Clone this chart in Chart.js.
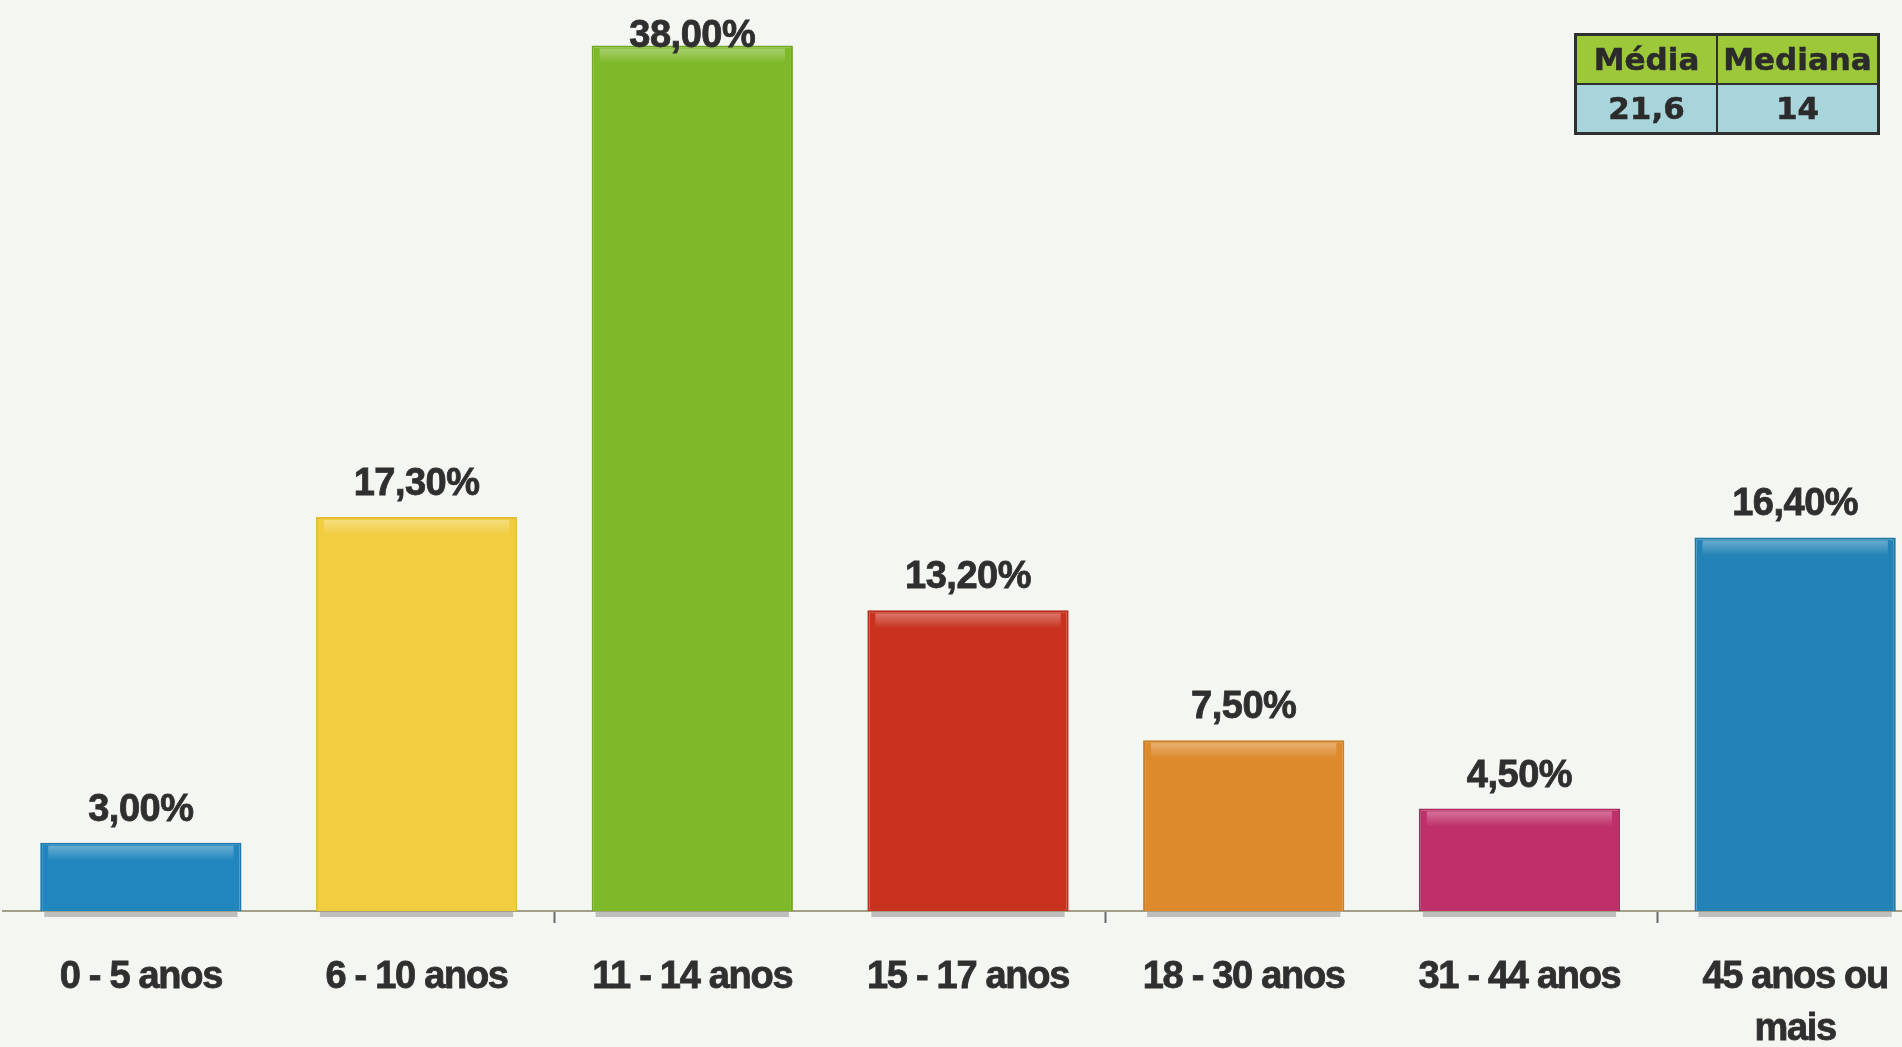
<!DOCTYPE html>
<html lang="pt">
<head>
<meta charset="utf-8">
<title>Faixa etária</title>
<script src="https://cdn.jsdelivr.net/npm/chart.js@4.4.1/dist/chart.umd.min.js"></script>
<style>
    html, body {
        margin: 0;
        padding: 0;
        width: 1902px;
        height: 1047px;
        overflow: hidden;
        background: #f4f6f1;
    }
    #wrap {
        position: absolute;
        left: 0;
        top: 0;
        width: 1935px;
        height: 1047px;
    }
    #resumo {
        position: absolute;
        left: 1574px;
        top: 33px;
        border-collapse: collapse;
        border: 3px solid #2f2f2f;
        font-family: "DejaVu Sans", Verdana, sans-serif;
        font-weight: bold;
        font-size: 31px;
        color: #2b2b2b;
        -webkit-text-stroke: 0.5px #2b2b2b;
    }
    #resumo td {
        border: 2px solid #2f2f2f;
        padding: 0;
        height: 47px;
        text-align: center;
        line-height: 47px;
    }
    #resumo tr.cab td { background: #9dc83a; }
    #resumo tr.val td { background: #a8d4dc; }
    #resumo td.c1 { width: 139px; }
    #resumo td.c2 { width: 159px; }
</style>
</head>
<body>
<div id="wrap"><canvas id="faixaChart"></canvas></div>

<table id="resumo">
    <tr class="cab"><td class="c1">Média</td><td class="c2">Mediana</td></tr>
    <tr class="val"><td class="c1">21,6</td><td class="c2">14</td></tr>
</table>

<script>
// dados
const faixas = ['0 - 5 anos', '6 - 10 anos', '11 - 14 anos', '15 - 17 anos', '18 - 30 anos', '31 - 44 anos', ['45 anos ou', 'mais']];
const percentuais = [3.0, 17.3, 38.0, 13.2, 7.5, 4.5, 16.4];
const coresBarras = ['#2186be', '#f2cd40', '#7db928', '#c9321f', '#dd8a2d', '#bf2f6a', '#2383b6'];
const coresBorda = ['#1d79ab', '#e3bd34', '#72a922', '#b72c1b', '#cc7e27', '#ac2a60', '#1f77a6'];
const eixoY = { min: 0, max: 40 };

const fonteTexto = "'Liberation Sans', Arial, sans-serif";

function formatarPct(v) {
    return v.toFixed(2).replace('.', ',') + '%';
}

// rótulos de valor + brilho no topo das barras
const rotulosPlugin = {
    id: 'rotulos',
    afterDatasetsDraw(chart) {
        const ctx = chart.ctx;
        const meta = chart.getDatasetMeta(0);
        const base = chart.scales.x.top;
        ctx.save();
        meta.data.forEach((bar, i) => {
            const w = bar.width;
            const left = bar.x - w / 2;
            // sombra sob a barra
            ctx.fillStyle = 'rgba(110, 110, 110, 0.4)';
            ctx.fillRect(left + 4, base + 1, w - 8, 5);
            // brilho no topo
            const g = ctx.createLinearGradient(0, bar.y + 2, 0, bar.y + 18);
            g.addColorStop(0, 'rgba(255, 255, 255, 0.35)');
            g.addColorStop(1, 'rgba(255, 255, 255, 0)');
            ctx.fillStyle = g;
            ctx.fillRect(left + 8, bar.y + 3, w - 16, 16);
        });
        ctx.fillStyle = '#2f2f2f';
        ctx.strokeStyle = '#2f2f2f';
        ctx.lineWidth = 0.8;
        ctx.font = 'bold 38px ' + fonteTexto;
        ctx.textAlign = 'center';
        ctx.textBaseline = 'alphabetic';
        ctx.letterSpacing = '-0.5px';
        meta.data.forEach((bar, i) => {
            const y = Math.max(bar.y - 22, 47);
            const txt = formatarPct(percentuais[i]);
            ctx.fillText(txt, bar.x, y);
            ctx.strokeText(txt, bar.x, y);
        });
        ctx.restore();
    }
};

// espaçamento apertado das legendas do eixo
const espacoPlugin = {
    id: 'espaco',
    beforeDraw(chart) { chart.ctx.letterSpacing = '-1.3px'; },
    afterDraw(chart) { chart.ctx.letterSpacing = '0px'; }
};

const ctx = document.getElementById('faixaChart').getContext('2d');
const faixaChart = new Chart(ctx, {
    type: 'bar',
    data: {
        labels: faixas,
        datasets: [{
            data: percentuais,
            backgroundColor: coresBarras,
            borderColor: coresBorda,
            borderWidth: 2,
            barPercentage: 0.73,
            categoryPercentage: 1.0
        }]
    },
    options: {
        responsive: true,
        maintainAspectRatio: false,
        animation: false,
        layout: { padding: { left: 3, right: 2, top: 0, bottom: 0 } },
        plugins: {
            legend: { display: false },
            tooltip: { enabled: false }
        },
        scales: {
            x: {
                afterFit: function(scale) { scale.height = 136; },
                border: { display: true, color: '#a39e88', width: 2 },
                grid: {
                    offset: true,
                    drawOnChartArea: false,
                    drawTicks: true,
                    tickLength: 12,
                    tickWidth: 2,
                    tickColor: function(c) {
                        return (c.index % 2 === 0 && c.index > 0) ? '#6b6b6b' : 'rgba(0,0,0,0)';
                    }
                },
                ticks: {
                    padding: 29,
                    color: '#2f2f2f',
                    textStrokeColor: '#2f2f2f',
                    textStrokeWidth: 0.8,
                    maxRotation: 0,
                    autoSkip: false,
                    font: { family: fonteTexto, size: 38, weight: 'bold', lineHeight: '52px' }
                }
            },
            y: {
                display: false,
                min: eixoY.min,
                max: eixoY.max
            }
        }
    },
    plugins: [espacoPlugin, rotulosPlugin]
});
</script>
</body>
</html>
